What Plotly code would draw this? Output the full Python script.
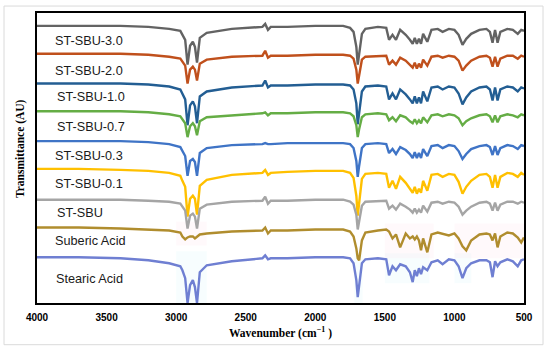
import plotly.graph_objects as go

wavenumber = [4000, 3700, 3400, 3200, 3050, 2970, 2955, 2935, 2918, 2900, 2880, 2865, 2850, 2830,
              2780, 2600, 2380, 2360, 2340, 2320, 2200, 2000, 1800, 1750, 1725, 1705, 1695, 1685,
              1665, 1640, 1550, 1490, 1470, 1445, 1420, 1390, 1350, 1320, 1300, 1285, 1270, 1255,
              1240, 1225, 1195, 1165, 1120, 1085, 1040, 1000, 970, 942, 915, 880, 820, 770, 745,
              726, 708, 690, 670, 620, 580, 545, 520, 500]

st_sbu_3_0 = [279, 279, 279, 278, 276, 274, 270, 265, 240, 259, 263, 258, 242, 267, 272, 276, 278, 281, 275, 278,
              278, 279, 279, 277, 273, 258, 240, 251, 271, 276, 278, 277, 265, 270, 265, 275, 270, 265, 261, 267,
              261, 266, 261, 271, 263, 275, 276, 273, 276, 275, 270, 260, 266, 271, 275, 276, 273, 262, 275, 262,
              273, 276, 275, 271, 275, 274]
st_sbu_2_0 = [251, 251, 251, 250, 248, 246, 243, 239, 221, 235, 238, 235, 224, 241, 245, 248, 249, 254, 247, 249,
              249, 250, 250, 249, 246, 235, 221, 230, 245, 248, 249, 249, 240, 244, 240, 247, 244, 240, 237, 242,
              236, 241, 237, 245, 239, 248, 249, 247, 249, 248, 244, 234, 239, 244, 248, 249, 247, 238, 248, 238,
              246, 249, 249, 246, 249, 248]
st_sbu_1_0 = [221, 221, 221, 220, 218, 215, 211, 205, 179, 199, 203, 198, 181, 208, 213, 217, 219, 224, 217, 219,
              219, 220, 220, 219, 215, 201, 180, 193, 213, 218, 219, 218, 205, 211, 205, 215, 210, 205, 201, 208,
              201, 207, 201, 213, 203, 217, 218, 215, 218, 217, 211, 200, 207, 213, 217, 218, 215, 204, 217, 204,
              215, 218, 217, 213, 217, 216]
st_sbu_0_7 = [193, 193, 193, 192, 190, 188, 185, 181, 167, 178, 181, 178, 169, 183, 187, 189, 191, 192, 189, 191,
              191, 192, 192, 191, 188, 179, 167, 175, 187, 190, 191, 190, 184, 187, 183, 189, 187, 183, 181, 185,
              181, 184, 181, 187, 182, 189, 190, 188, 190, 189, 186, 179, 183, 186, 189, 190, 188, 182, 189, 182,
              188, 190, 189, 187, 190, 189]
st_sbu_0_3 = [163, 163, 163, 162, 160, 157, 153, 148, 128, 143, 145, 142, 128, 151, 156, 159, 160, 161, 160, 160,
              161, 161, 161, 160, 156, 143, 127, 138, 156, 160, 161, 160, 151, 155, 150, 157, 154, 150, 146, 152,
              146, 151, 146, 155, 148, 158, 159, 156, 159, 158, 153, 145, 150, 155, 158, 159, 157, 149, 158, 149,
              156, 159, 158, 155, 159, 158]
st_sbu_0_1 = [135, 135, 134, 133, 131, 128, 123, 117, 87, 105, 108, 105, 89, 118, 124, 129, 131, 134, 129, 131,
              132, 133, 133, 131, 126, 108, 88, 101, 125, 130, 131, 130, 116, 123, 115, 127, 121, 115, 111, 117,
              110, 115, 111, 123, 113, 129, 130, 127, 130, 129, 122, 110, 117, 123, 129, 130, 127, 116, 129, 116,
              127, 131, 130, 127, 131, 129]
st_sbu = [104, 104, 104, 103, 102, 100, 97, 93, 75, 88, 90, 87, 75, 95, 99, 102, 103, 107, 100, 103,
          103, 104, 104, 102, 99, 89, 74, 83, 98, 102, 103, 103, 95, 98, 94, 100, 97, 94, 91, 95,
          91, 94, 91, 98, 92, 101, 102, 100, 102, 101, 97, 89, 93, 97, 101, 102, 100, 93, 101, 93,
          99, 102, 102, 100, 102, 101]
suberic_acid = [76, 76, 75, 74, 73, 71, 67, 64, 66, 67, 67, 65, 67, 69, 70, 72, 73, 76, 70, 73,
                73, 74, 74, 72, 67, 55, 45, 43, 63, 71, 73, 74, 72, 65, 69, 56, 70, 65, 67, 64,
                67, 63, 53, 65, 51, 69, 71, 70, 68, 70, 65, 57, 53, 63, 69, 70, 69, 63, 70, 56,
                67, 71, 70, 66, 61, 66]
stearic_acid = [46, 46, 45, 43, 40, 37, 33, 25, 0, 18, 23, 16, 0, 31, 38, 42, 45, 48, 44, 45,
                45, 46, 46, 45, 40, 23, 6, 18, 40, 44, 45, 44, 28, 37, 33, 39, 37, 31, 21, 33,
                27, 35, 29, 36, 33, 41, 43, 39, 44, 43, 37, 25, 35, 40, 43, 43, 41, 26, 42, 37,
                41, 44, 42, 37, 43, 44]

series_names = ["ST-SBU-3.0", "ST-SBU-2.0", "ST-SBU-1.0", "ST-SBU-0.7", "ST-SBU-0.3",
                "ST-SBU-0.1", "ST-SBU", "Suberic Acid", "Stearic Acid"]
series_values = [st_sbu_3_0, st_sbu_2_0, st_sbu_1_0, st_sbu_0_7, st_sbu_0_3,
                 st_sbu_0_1, st_sbu, suberic_acid, stearic_acid]
colors = ["#636363", "#C0501C", "#235E93", "#65AD45", "#3F74C6",
          "#FFC000", "#A5A5A5", "#B08D2E", "#6F7FD2"]

x_ticks = [4000, 3500, 3000, 2500, 2000, 1500, 1000, 500]

# label placement (y in data units, x in pixels from left of figure)
label_y = [264, 234, 207, 177, 148, 120, 91, 62, 24]
label_px = [53, 53, 55, 55, 53, 53, 55, 53, 54]

fig = go.Figure()

# very faint highlight bands seen behind some spectra
bands = [
    (3000, 2780, 0, 52, "rgba(200,240,250,0.15)"),
    (1720, 1660, 0, 50, "rgba(200,240,250,0.15)"),
    (1500, 1180, 20, 50, "rgba(200,240,250,0.15)"),
    (1000, 880, 20, 50, "rgba(200,240,250,0.15)"),
    (3000, 2780, 58, 82, "rgba(255,215,230,0.15)"),
    (1500, 1150, 45, 80, "rgba(255,215,230,0.15)"),
    (1000, 500, 45, 80, "rgba(255,215,230,0.15)"),
]
for x0, x1, y0, y1, c in bands:
    fig.add_shape(type="rect", xref="x", yref="y", x0=x0, x1=x1, y0=y0, y1=y1,
                  line=dict(width=0), fillcolor=c, layer="below")

for name, vals, col in zip(series_names, series_values, colors):
    fig.add_trace(go.Scatter(x=wavenumber, y=vals, mode="lines", name=name,
                             line=dict(color=col, width=2.4)))

L, R, T, B = 37, 26, 11, 50
W, H = 550, 353
pw, ph = W - L - R, H - T - B

for name, ly, lpx in zip(series_names, label_y, label_px):
    fig.add_annotation(x=(lpx - L) / pw, xref="paper", y=ly, yref="y", text=name,
                       showarrow=False, xanchor="left", yanchor="middle",
                       font=dict(family="Liberation Sans", size=12.7, color="#1a1a1a"))

fig.add_annotation(x=(20 - L) / pw, xref="paper", y=(H - B - 148) / ph, yref="paper",
                   text="<b>Transmittance (AU)</b>", textangle=-90, showarrow=False,
                   xanchor="center", yanchor="middle",
                   font=dict(family="Liberation Serif", size=11.5, color="black"))
fig.add_annotation(x=0.5, xref="paper", y=(H - B - 333) / ph, yref="paper",
                   text="<b>Wavenumber (cm<sup>−1</sup> )</b>", showarrow=False,
                   xanchor="center", yanchor="middle",
                   font=dict(family="Liberation Serif", size=11.5, color="black"))

# outer light frame
fig.add_shape(type="rect", xref="paper", yref="paper",
              x0=(4 - L) / pw, x1=(543 - L) / pw, y0=(H - B - 345) / ph, y1=(H - B - 4) / ph,
              line=dict(color="#DADADA", width=1), fillcolor="rgba(0,0,0,0)", layer="below")

fig.update_layout(
    width=W, height=H, margin=dict(l=L, r=R, t=T, b=B),
    paper_bgcolor="white", plot_bgcolor="white", showlegend=False,
    xaxis=dict(range=[4000, 500], tickvals=x_ticks, ticktext=[str(v) for v in x_ticks],
               showgrid=False, zeroline=False, showline=True, mirror=True,
               linecolor="black", linewidth=2, ticks="", ticklabelstandoff=4,
               tickfont=dict(family="Liberation Sans", size=10, color="black", weight="bold")),
    yaxis=dict(range=[0, 292], showticklabels=False, showgrid=False, zeroline=False,
               showline=True, mirror=True, linecolor="black", linewidth=2, ticks=""),
)

fig.write_html("out.html", config={"displayModeBar": False},
               post_script="document.body.style.margin='0';")
